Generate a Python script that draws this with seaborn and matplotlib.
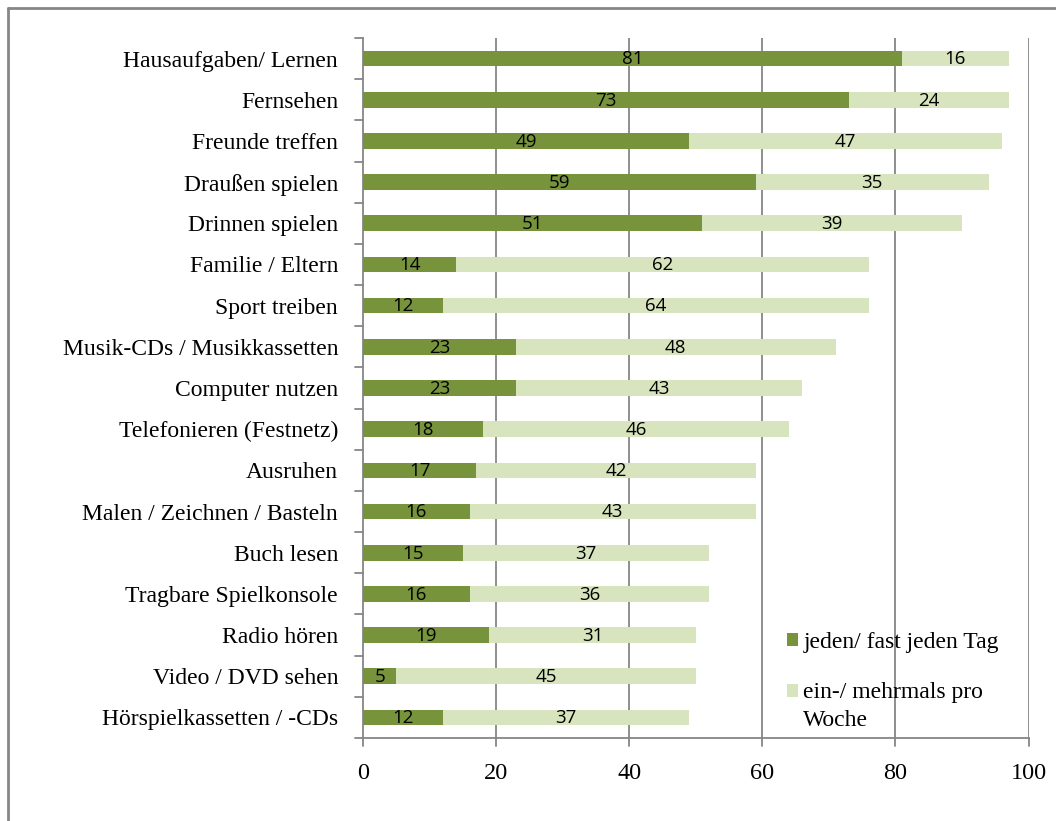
import matplotlib
matplotlib.use("Agg")
import matplotlib.pyplot as plt
from matplotlib.lines import Line2D
from matplotlib.patches import Patch, Rectangle
from matplotlib.legend_handler import HandlerPatch
import seaborn as sns
import pandas as pd

activities = [
    "Hausaufgaben/ Lernen", "Fernsehen", "Freunde treffen", "Draußen spielen",
    "Drinnen spielen", "Familie / Eltern", "Sport treiben",
    "Musik-CDs / Musikkassetten", "Computer nutzen", "Telefonieren (Festnetz)",
    "Ausruhen", "Malen / Zeichnen / Basteln", "Buch lesen",
    "Tragbare Spielkonsole", "Radio hören", "Video / DVD sehen",
    "Hörspielkassetten / -CDs",
]
daily = [81, 73, 49, 59, 51, 14, 12, 23, 23, 18, 17, 16, 15, 16, 19, 5, 12]
weekly = [16, 24, 47, 35, 39, 62, 64, 48, 43, 46, 42, 43, 37, 36, 31, 45, 37]
series_names = ["jeden/ fast jeden Tag", "ein-/ mehrmals pro\nWoche"]
x_ticks = [0, 20, 40, 60, 80, 100]

dark_green = "#77933C"
light_green = "#D7E4BD"
grid_gray = "#868686"

sns.set_theme(style="white")
plt.rcParams["font.family"] = ["Liberation Serif", "DejaVu Serif"]
plt.rcParams["text.color"] = "black"
plt.rcParams["xtick.color"] = "black"
plt.rcParams["ytick.color"] = "black"

df = pd.DataFrame({"activity": activities, "daily": daily, "weekly": weekly})
df["total"] = df["daily"] + df["weekly"]

fig = plt.figure(figsize=(10.56, 8.21), dpi=100)
ax = fig.add_axes([0.3438, 0.1011, 0.6302, 0.8526])

# stacked bars: total in light green behind, daily share in dark green on top
sns.barplot(data=df, y="activity", x="total", color=light_green, width=0.38,
            saturation=1, linewidth=0, ax=ax, order=activities, zorder=3)
sns.barplot(data=df, y="activity", x="daily", color=dark_green, width=0.38,
            saturation=1, linewidth=0, ax=ax, order=activities, zorder=4)

label_font = dict(family=["Open Sans", "DejaVu Sans"], fontsize=13.5, color="black")
for i, (d, w) in enumerate(zip(daily, weekly)):
    ax.text(d / 2, i + 0.02, str(d), ha="center", va="center", zorder=6, **label_font)
    ax.text(d + w / 2, i + 0.02, str(w), ha="center", va="center", zorder=6, **label_font)

ax.set_xlim(0, 100)
ax.set_ylim(len(activities) - 0.5, -0.5)
ax.set_xticks(x_ticks)
ax.set_xticklabels([str(t) for t in x_ticks], fontsize=17.5)
ax.tick_params(axis="x", length=0, pad=18)
ax.tick_params(axis="y", length=0, pad=18, labelsize=17)
ax.set_xlabel("")
ax.set_ylabel("")

for t in x_ticks[1:]:
    ax.axvline(t, color=grid_gray, lw=1.3, zorder=1)

for side in ["top", "right"]:
    ax.spines[side].set_visible(False)
for side in ["left", "bottom"]:
    ax.spines[side].set_color(grid_gray)
    ax.spines[side].set_linewidth(1.3)

# category separator ticks on the left axis and value ticks below the x axis
trans_y = ax.get_yaxis_transform()
for k in range(len(activities) + 1):
    ax.plot([-0.012, 0], [k - 0.5, k - 0.5], transform=trans_y, color=grid_gray,
            lw=1.3, clip_on=False, zorder=5)
trans_x = ax.get_xaxis_transform()
for t in x_ticks:
    ax.plot([t, t], [0, -0.012], transform=trans_x, color=grid_gray,
            lw=1.3, clip_on=False, zorder=5)


def top_aligned_square(legend, orig_handle, xdescent, ydescent, width, height, fontsize):
    # keep the swatch level with the first line of a wrapped label
    return Rectangle((-xdescent, -ydescent + 11), width, height)


handles = [Patch(facecolor=dark_green, edgecolor="none"),
           Patch(facecolor=light_green, edgecolor="none")]
leg = ax.legend(handles, series_names, loc="lower left",
                bbox_to_anchor=(0.605, -0.02), frameon=False, fontsize=17,
                handlelength=0.45, handleheight=0.45, handletextpad=0.25,
                labelspacing=1.22,
                handler_map={handles[1]: HandlerPatch(patch_func=top_aligned_square)})
leg.get_texts()[1].set_linespacing(1.45)
leg.set_zorder(7)

# outer chart frame (top and left edges)
fig.add_artist(Line2D([0.0076, 1.0], [0.9903, 0.9903], transform=fig.transFigure,
                      color=grid_gray, lw=2))
fig.add_artist(Line2D([0.0076, 0.0076], [0.0, 0.9903], transform=fig.transFigure,
                      color=grid_gray, lw=2))

fig.savefig("out.png", dpi=100, facecolor="white")
